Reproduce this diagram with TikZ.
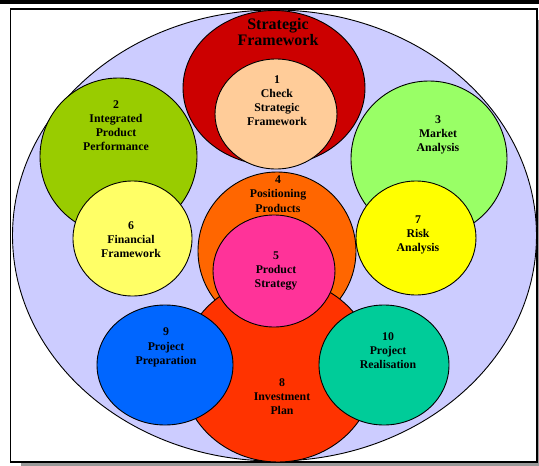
\documentclass[tikz,border=0pt]{standalone}
\usepackage{fontspec}
\setmainfont{Liberation Serif}
\usetikzlibrary{shapes.geometric}
\definecolor{lav}{HTML}{CCCCFF}
\definecolor{sfred}{HTML}{CC0000}
\definecolor{peach}{HTML}{FFCC99}
\definecolor{olivegreen}{HTML}{99CC00}
\definecolor{lightgreen}{HTML}{99FF66}
\definecolor{paleyellow}{HTML}{FFFF66}
\definecolor{brightyellow}{HTML}{FFFF00}
\definecolor{orangeA}{HTML}{FF6600}
\definecolor{pinkA}{HTML}{FF3399}
\definecolor{redorange}{HTML}{FF3300}
\definecolor{blueA}{HTML}{0066FF}
\definecolor{tealA}{HTML}{00CC99}
\definecolor{shadowgray}{HTML}{999999}
\tikzset{
  blob/.style={ellipse, draw=black, line width=0.9pt, inner sep=0pt},
  lbl/.style={align=center, inner sep=0pt, font=\fontsize{11.8}{14.2}\selectfont\bfseries},
  ttl/.style={align=center, inner sep=0pt, font=\fontsize{16}{16}\selectfont\bfseries}
}
\newcommand{\blobnode}[5]{\node[blob, fill=#2, minimum width=#4pt, minimum height=#5pt] (#1) at (#3) {};}
\begin{document}
\begin{tikzpicture}[x=1pt,y=-1pt]
\useasboundingbox (0,0) rectangle (539,466);
% top bar and frame shadow
\fill[black] (0,0) rectangle (539,4.3);
\fill[shadowgray] (21,463) rectangle (539,466);
\fill[shadowgray] (537.5,20) rectangle (539,466);
\node[draw=black, line width=1.4pt, fill=white, minimum width=526.5pt, minimum height=453pt, inner sep=0pt] (frame) at (273.75,235.5) {};
% circles
\blobnode{big}{lav}{274.5,235.5}{524}{451}
\blobnode{sf}{sfred}{274,88}{182}{155}
\blobnode{c1}{peach}{276,114}{122}{110}
\blobnode{c2}{olivegreen}{118.5,156.5}{157}{157}
\blobnode{c6}{paleyellow}{132.5,238.5}{119}{115}
\blobnode{c3}{lightgreen}{429,159}{156}{156}
\blobnode{c7}{brightyellow}{416,238}{120}{114}
\blobnode{c4}{orangeA}{277,251}{158}{158}
\blobnode{c8}{redorange}{278,370}{194}{184}
\blobnode{c5}{pinkA}{274,271}{122}{112}
\blobnode{c9}{blueA}{165,365}{136}{120}
\blobnode{c10}{tealA}{384,365}{130}{120}
% labels
\node[ttl] (tsf) at (278,32.5) {Strategic\\Framework};
\node[lbl] (t1) at (277,100.5) {1\\Check\\Strategic\\Framework};
\node[lbl] (t2) at (116,125.5) {2\\Integrated\\Product\\Performance};
\node[lbl] (t3) at (438,135) {3\\Market\\Analysis};
\node[lbl] (t4) at (278,194) {4\\Positioning\\Products};
\node[lbl] (t5) at (276,271) {5\\Product\\Strategy};
\node[lbl] (t6) at (131,239.5) {6\\Financial\\Framework};
\node[lbl] (t7) at (418,235) {7\\Risk\\Analysis};
\node[lbl] (t8) at (282,396.5) {8\\Investment\\Plan};
\node[lbl] (t9) at (166,347.5) {9\\Project\\Preparation};
\node[lbl] (t10) at (388,350.5) {10\\Project\\Realisation};
\end{tikzpicture}
\end{document}
